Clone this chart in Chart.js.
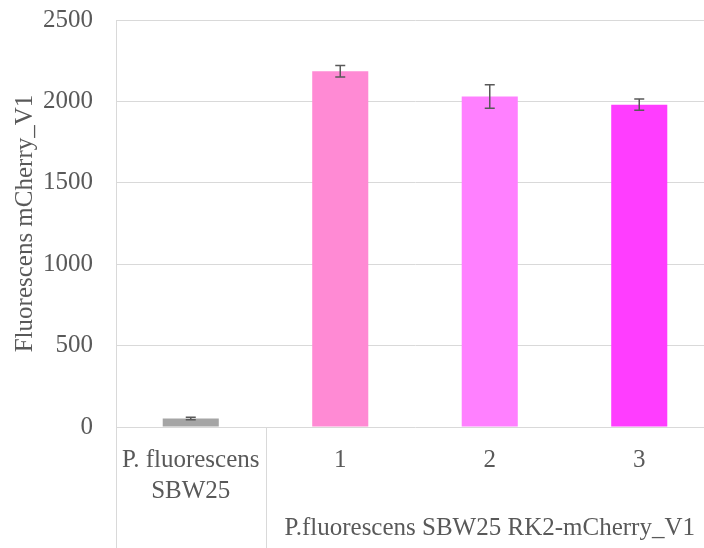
<!DOCTYPE html>
<html lang="en">
<head>
    <meta charset="UTF-8">
    <title>Fluorescens mCherry_V1</title>
    <style>
        body {margin: 0; background: #fff;}
        #wrap {width: 704px; height: 548px; overflow: hidden;}
        #box {width: 714px; height: 548px;}
    </style>
    <script src="https://cdn.jsdelivr.net/npm/chart.js@4.4.1/dist/chart.umd.min.js"></script>
</head>
<body>
    <div id="wrap"><div id="box"><canvas id="barChart"></canvas></div></div>

    <script>
        // values
        const categories = [['P. fluorescens', 'SBW25'], '1', '2', '3'];
        const groupLabel = 'P.fluorescens SBW25 RK2-mCherry_V1';
        const values = [52, 2185, 2030, 1980];
        const errors = [8, 35, 72, 34];
        const barColors = ['#a5a5a5', '#ff8ad4', '#ff80ff', '#ff3dff'];
        const yTicks = [0, 500, 1000, 1500, 2000, 2500];

        const textColor = '#595959';
        const lineColor = '#d9d9d9';
        const font = {family: 'Liberation Serif', size: 25};

        // error bars on top of each bar
        const errorBars = {
            id: 'errorBars',
            afterDatasetsDraw(chart) {
                const c = chart.ctx;
                const xs = chart.scales.x, ys = chart.scales.y;
                c.save();
                c.strokeStyle = textColor;
                c.lineWidth = 1.5;
                values.forEach((v, i) => {
                    const x = xs.getPixelForValue(i);
                    const top = ys.getPixelForValue(v + errors[i]);
                    const bot = ys.getPixelForValue(v - errors[i]);
                    c.beginPath();
                    c.moveTo(x, top); c.lineTo(x, bot);
                    c.moveTo(x - 5, top); c.lineTo(x + 5, top);
                    c.moveTo(x - 5, bot); c.lineTo(x + 5, bot);
                    c.stroke();
                });
                c.restore();
            }
        };

        // divider lines under the x axis and the group label
        const groupAxis = {
            id: 'groupAxis',
            afterDraw(chart) {
                const c = chart.ctx;
                const xs = chart.scales.x;
                const area = chart.chartArea;
                const half = (xs.getPixelForValue(1) - xs.getPixelForValue(0)) / 2;
                c.save();
                c.strokeStyle = lineColor;
                c.lineWidth = 1;
                [area.left, xs.getPixelForValue(0) + half].forEach(x => {
                    const px = Math.round(x) + 0.5;
                    c.beginPath();
                    c.moveTo(px, area.bottom);
                    c.lineTo(px, chart.height);
                    c.stroke();
                });
                c.fillStyle = textColor;
                c.font = font.size + 'px ' + font.family;
                c.textAlign = 'center';
                c.textBaseline = 'middle';
                const mid = (xs.getPixelForValue(1) + xs.getPixelForValue(3)) / 2;
                c.fillText(groupLabel, mid, 528);
                c.restore();
            }
        };

        new Chart(document.getElementById('barChart'), {
            type: 'bar',
            data: {
                labels: categories,
                datasets: [{
                    data: values,
                    backgroundColor: barColors,
                    categoryPercentage: 1,
                    barPercentage: 0.375
                }]
            },
            options: {
                responsive: true,
                maintainAspectRatio: false,
                animation: false,
                layout: {padding: {top: 20, left: 0, right: 0, bottom: 0}},
                plugins: {legend: {display: false}, tooltip: {enabled: false}},
                scales: {
                    x: {
                        grid: {display: false},
                        border: {display: false},
                        ticks: {color: textColor, font: {...font, lineHeight: 1.24}, padding: 10, maxRotation: 0},
                        afterFit: s => { s.height = 121; s.paddingLeft = 0; s.paddingRight = 0; }
                    },
                    y: {
                        min: 0,
                        max: 2500,
                        afterBuildTicks: s => { s.ticks = yTicks.map(v => ({value: v})); },
                        grid: {color: lineColor, drawTicks: false},
                        border: {color: lineColor},
                        ticks: {color: textColor, font: font, padding: 23, callback: v => String(v)},
                        title: {display: true, text: 'Fluorescens mCherry_V1', color: textColor, font: font, padding: {top: 10, bottom: 0}},
                        afterFit: s => { s.width = 116; s.paddingTop = 0; s.paddingBottom = 0; }
                    }
                }
            },
            plugins: [errorBars, groupAxis]
        });
    </script>
</body>
</html>
